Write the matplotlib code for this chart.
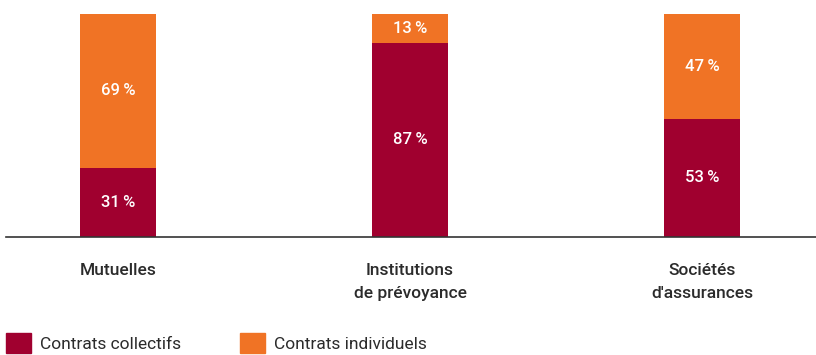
import matplotlib
matplotlib.use("Agg")
import matplotlib.pyplot as plt
import matplotlib.patches as patches
import numpy as np

#____________________________________________________________________________________________________
# data
categories = ["Mutuelles", "Institutions\nde prévoyance", "Sociétés\nd'assurances"]
collectifs = [31, 87, 53]
individuels = [69, 13, 47]
series_names = ["Contrats collectifs", "Contrats individuels"]

#____________________________________________________________________________________________________
# style
RED = "#A0002F"
ORANGE = "#F07325"
TEXT = "#2b2b2b"
plt.rcParams["font.family"] = ["Roboto", "DejaVu Sans"]


def pct(v):
    return "{}\u2009%".format(v)


def main():
    fig = plt.figure(figsize=(8.16, 3.55), dpi=100)
    ax = fig.add_axes([6 / 816, 1 - 237 / 355, 1 - 6 / 816, (237 - 14) / 355])

    x = np.arange(len(categories))
    width = 0.26
    ax.bar(x, collectifs, width, color=RED, label=series_names[0])
    ax.bar(x, individuels, width, bottom=collectifs, color=ORANGE, label=series_names[1])

    # value labels in the middle of each segment
    for xi, c, i in zip(x, collectifs, individuels):
        ax.text(xi, c / 2, pct(c), ha="center", va="center", color="white",
                fontsize=12, fontweight="medium")
        ax.text(xi, c + i / 2, pct(i), ha="center", va="center", color="white",
                fontsize=12, fontweight="medium")

    ax.set_xlim(-0.3836, 2.3904)
    ax.set_ylim(0, 100)
    for s in ["top", "right", "left"]:
        ax.spines[s].set_visible(False)
    ax.spines["bottom"].set_color("#333333")
    ax.spines["bottom"].set_linewidth(1.2)
    ax.set_yticks([])
    ax.set_xticks(x)
    ax.set_xticklabels(categories, fontsize=12.5, color=TEXT, linespacing=1.6,
                       fontweight="medium")
    ax.tick_params(axis="x", length=0, pad=19)

    handles = [patches.Patch(color=RED), patches.Patch(color=ORANGE)]
    leg = ax.legend(handles, series_names, loc="upper left",
                    bbox_to_anchor=(6 / 816, 1 - 333 / 355), bbox_transform=fig.transFigure,
                    ncol=2, frameon=False, fontsize=12.5, handlelength=1.45, handleheight=1.4,
                    handletextpad=0.5, columnspacing=3.4, borderaxespad=0, borderpad=0)
    for t in leg.get_texts():
        t.set_color(TEXT)

    fig.savefig("out.png", dpi=100)


if __name__ == "__main__":
    main()
